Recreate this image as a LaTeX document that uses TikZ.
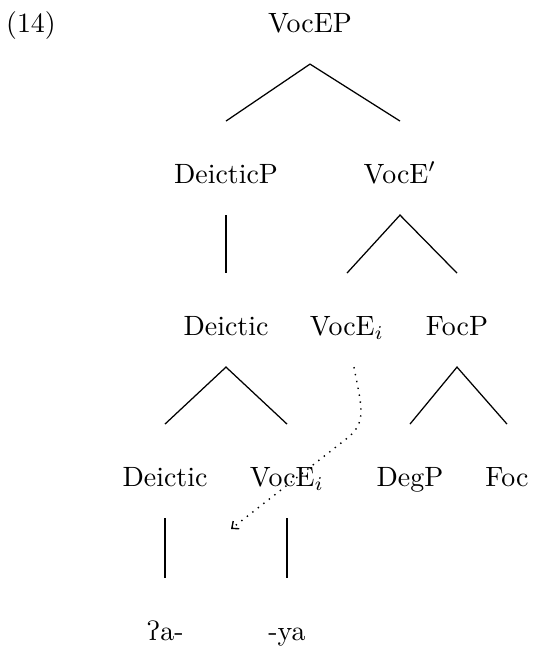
\documentclass[tikz,border=0pt]{standalone}
\usepackage{tipa}
\usepackage{tikz}
\usetikzlibrary{arrows.meta}

\begin{document}
\begin{tikzpicture}[x=0.3584pt, y=-0.3584pt,
    cat/.style={inner sep=0pt, text height=22pt, text depth=11.3pt, anchor=base},
    branch/.style={line width=0.45pt},
    trace/.style={dotted, line width=0.5pt, -{Straight Barb[length=2pt,width=3.5pt]}}]
    \useasboundingbox (0,0) rectangle (532,650);
    % Example number
    \node[inner sep=0pt, anchor=base] (exnum) at (31,32) {(14)};
    % Root
    \node[cat] (vocep) at (310,32) {VocEP};
    % Level 1
    \node[cat] (deicp) at (226,183) {DeicticP};
    \node[cat] (vocebar) at (400,183) {VocE$'$};
    % Level 2
    \node[cat] (deic1) at (226,335) {Deictic};
    \node[cat] (vocei1) at (347,335) {VocE$_i$};
    \node[cat] (focp) at (457,335) {FocP};
    % Level 3
    \node[cat] (deic2) at (165,486) {Deictic};
    \node[cat] (vocei2) at (287,486) {VocE$_i$};
    \node[cat] (degp) at (410,486) {DegP};
    \node[cat] (foc) at (507,486) {Foc};
    % Leaves
    \node[cat] (glot) at (165,640) {\textglotstop a-};
    \node[cat] (ya) at (287,640) {-ya};
    % Branches
    \draw[branch] (deicp.north) -- (vocep.south) -- (vocebar.north);
    \draw[branch] (deicp.south) -- (deic1.north);
    \draw[branch] (vocei1.north) -- (vocebar.south) -- (focp.north);
    \draw[branch] (deic2.north) -- (deic1.south) -- (vocei2.north);
    \draw[branch] (degp.north) -- (focp.south) -- (foc.north);
    \draw[branch] (deic2.south) -- (glot.north);
    \draw[branch] (vocei2.south) -- (ya.north);
    % Movement trace
    \coordinate (gap) at (231,529);
    \draw[trace] ([xshift=2.5pt]vocei1.south) .. controls (361,405) and (367,420) .. (350,436) -- (gap);
\end{tikzpicture}
\end{document}
